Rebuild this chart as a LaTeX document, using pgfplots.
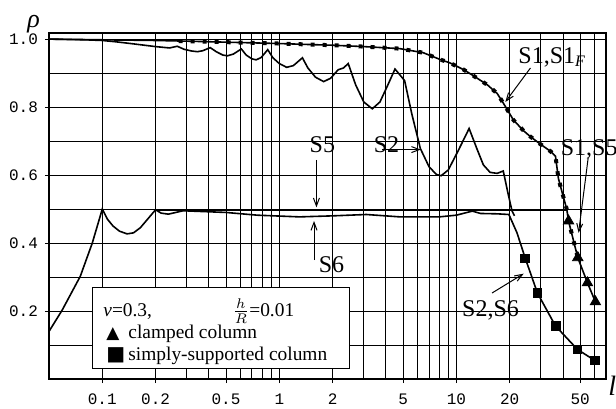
\documentclass[border=0pt]{standalone}
\usepackage{fontspec}
\setmainfont{Liberation Serif}
\setmonofont{Liberation Mono}
\newfontfamily\symfont{DejaVu Sans}
\usepackage{pgfplots}
\pgfplotsset{compat=1.18}
\usetikzlibrary{arrows.meta}

\begin{document}
\begin{tikzpicture}
\begin{axis}[
  at={(0pt,0pt)}, anchor=south west,
  scale only axis, width=278.5pt, height=173pt,
  xmode=log, xmin=0.05, xmax=70, ymin=0, ymax=1.018,
  xtick={0.1,0.2,0.5,1,2,5,10,20,50},
  xticklabels={0.1,0.2,0.5,1,2,5,10,20,50},
  minor xtick={0.3,0.4,0.6,0.7,0.8,0.9,3,4,6,7,8,9,30,40,60,70},
  ytick={0.2,0.4,0.6,0.8,1.0},
  yticklabels={0.2,0.4,0.6,0.8,1.0},
  minor ytick={0.1,0.3,0.5,0.7,0.9},
  grid=both,
  major grid style={black, line width=0.45pt},
  minor grid style={black, line width=0.45pt},
  tick align=outside, major tick length=2pt, minor tick length=0pt,
  tick style={black, line width=0.5pt},
  xtick pos=bottom, ytick pos=left,
  axis line style={line width=0.6pt},
  tick label style={font=\ttfamily\fontsize{8}{9}\selectfont},
  xticklabel style={yshift=-2pt},
  clip=false,
]
% S1 (solid)
\addplot[black, line width=0.8pt] coordinates {
(0.05,1.0) (0.1,0.998) (0.2,0.996) (0.3,0.994) (0.5,0.991) (1,0.987) (1.5,0.984) (2,0.982) (3,0.978) (4.8,0.972) (6.5,0.96) (8.1,0.94) (9.2,0.93) (11,0.91) (12.5,0.892) (15,0.865) (17,0.84) (18.4,0.812) (21,0.762) (24,0.73) (26.2,0.713) (30,0.69) (34,0.67) (36.3,0.655) (37.7,0.59) (40,0.54) (42,0.5) (43,0.465) (48.5,0.357) (55,0.283) (61,0.227)};
% S1_F (dotted)
\addplot[black, line width=2pt, line cap=butt, dash pattern=on 2pt off 4pt] coordinates {
(0.27,0.994) (0.3,0.994) (0.5,0.991) (1,0.987) (1.5,0.984) (2,0.982) (3,0.978) (4.8,0.972) (6.5,0.96) (8.1,0.94) (9.2,0.93) (11,0.91) (12.5,0.892) (15,0.865) (17,0.84) (18.4,0.812) (21,0.762) (24,0.73) (26.2,0.713) (30,0.69) (34,0.67) (36.3,0.655) (37.7,0.59) (40,0.54) (42,0.5) (43,0.465) (48.5,0.357)};
% S2
\addplot[black, line width=0.8pt] coordinates {
(0.05,1.0) (0.08,0.998) (0.1,0.996) (0.12,0.992) (0.15,0.986) (0.2,0.978) (0.24,0.974) (0.265,0.979) (0.29,0.970) (0.32,0.965) (0.345,0.963) (0.37,0.966) (0.407,0.975) (0.44,0.963) (0.48,0.953) (0.51,0.951) (0.55,0.956) (0.61,0.971) (0.65,0.953) (0.70,0.942) (0.74,0.939) (0.79,0.946) (0.86,0.969) (0.92,0.945) (1.0,0.928) (1.1,0.917) (1.2,0.922) (1.35,0.945) (1.45,0.915) (1.6,0.888) (1.78,0.875) (1.95,0.885) (2.15,0.91) (2.3,0.915) (2.45,0.928) (2.7,0.865) (3.0,0.815) (3.35,0.795) (3.7,0.815) (4.1,0.865) (4.5,0.912) (5.1,0.878) (5.6,0.78) (6.26,0.678) (7.0,0.625) (7.7,0.602) (8.2,0.598) (9.0,0.615) (10.2,0.67) (11.8,0.737) (13.0,0.68) (14.2,0.63) (15.5,0.608) (17,0.605) (18.4,0.612) (19.5,0.55) (20.6,0.495) (21.3,0.48)};
% S6 + simply-supported column
\addplot[black, line width=0.8pt] coordinates {
(0.05,0.14) (0.0594,0.203) (0.0751,0.302) (0.0878,0.40) (0.1,0.5) (0.107,0.47) (0.115,0.45) (0.125,0.435) (0.138,0.427) (0.15,0.43) (0.164,0.445) (0.187,0.48) (0.2,0.498) (0.215,0.488) (0.236,0.485) (0.26,0.49) (0.286,0.495) (0.5,0.49) (0.75,0.482) (1.3,0.477) (2,0.48) (3.1,0.484) (4.8,0.477) (8,0.477) (10,0.482) (12.3,0.494) (13.7,0.487) (17,0.486) (19.8,0.484) (22,0.43) (24.5,0.355) (28.7,0.253) (36.3,0.156) (48.3,0.087) (60.3,0.055)};
% S5
\addplot[black, line width=1pt] coordinates {(0.2,0.498) (1,0.498) (10,0.498) (42,0.498)};
% clamped column
\addplot[only marks, mark=triangle*, mark size=3pt, black] coordinates {(43,0.465) (48.5,0.357) (55,0.283) (61,0.227)};
% simply-supported column
\addplot[only marks, mark=square*, mark size=2.2pt, black] coordinates {(24.5,0.355) (28.7,0.253) (36.3,0.156) (48.3,0.087) (60.3,0.055)};

\tikzset{ann/.style={font=\fontsize{12}{14}\selectfont, inner sep=0pt},
         arr/.style={-{Straight Barb[length=4pt,width=3pt]}, line width=0.5pt}}
\node[ann] at (axis cs:34.8,0.947) {S1,S1\textsubscript{\textit{F}}};
\draw[arr] (axis cs:26.2,0.915) -- (axis cs:18.9,0.815);
\node[ann] at (axis cs:4.03,0.69) {S2};
\draw[arr] (axis cs:3.81,0.675) -- (axis cs:6.3,0.675);
\node[ann] at (axis cs:1.75,0.69) {S5};
\draw[arr] (axis cs:1.62,0.645) -- (axis cs:1.62,0.505);
\node[ann] at (axis cs:1.97,0.337) {S6};
\draw[arr] (axis cs:1.57,0.35) -- (axis cs:1.57,0.465);
\node[ann] at (axis cs:15.6,0.203) {S2,S6};
\draw[arr] (axis cs:15.9,0.253) -- (axis cs:24,0.31);
\node[ann, anchor=west] at (axis cs:38.7,0.675) {S1,S5};
\draw[arr] (axis cs:55.5,0.65) -- (axis cs:49,0.43);

\node[font=\itshape\fontsize{13}{14}\selectfont] at (axis cs:0.041,1.045) {ρ};
\node[font=\itshape\fontsize{14}{14}\selectfont] at (axis cs:76,-0.02) {l};

\node[draw, fill=white, line width=0.6pt, minimum width=128.5pt, minimum height=40.5pt, anchor=south west, inner sep=0pt] (lg) at ([xshift=21.5pt,yshift=5pt]rel axis cs:0,0) {};
\tikzset{lt/.style={anchor=west, inner sep=0pt, font=\fontsize{9.7}{11}\selectfont}}
\node[lt] at ([xshift=5.5pt,yshift=-12.5pt]lg.north west) {{\itshape ν}=0.3,};
\node[lt] at ([xshift=70pt,yshift=-12pt]lg.north west) {$\frac{h}{R}$=0.01};
\node[lt] at ([xshift=7pt,yshift=-23.5pt]lg.north west) {\symfont\fontsize{8.5}{8.5}\selectfont ▲};
\node[lt] at ([xshift=18pt,yshift=-23.5pt]lg.north west) {clamped column};
\node[lt] at ([xshift=7pt,yshift=-34.5pt]lg.north west) {\symfont\fontsize{10}{10}\selectfont ■};
\node[lt] at ([xshift=18pt,yshift=-34.5pt]lg.north west) {simply-supported column};
\end{axis}
\pgfresetboundingbox
\path ([shift={(-24.5pt,-14.5pt)}]current axis.south west) rectangle ([shift={(5pt,16.5pt)}]current axis.north east);
\end{tikzpicture}
\end{document}
